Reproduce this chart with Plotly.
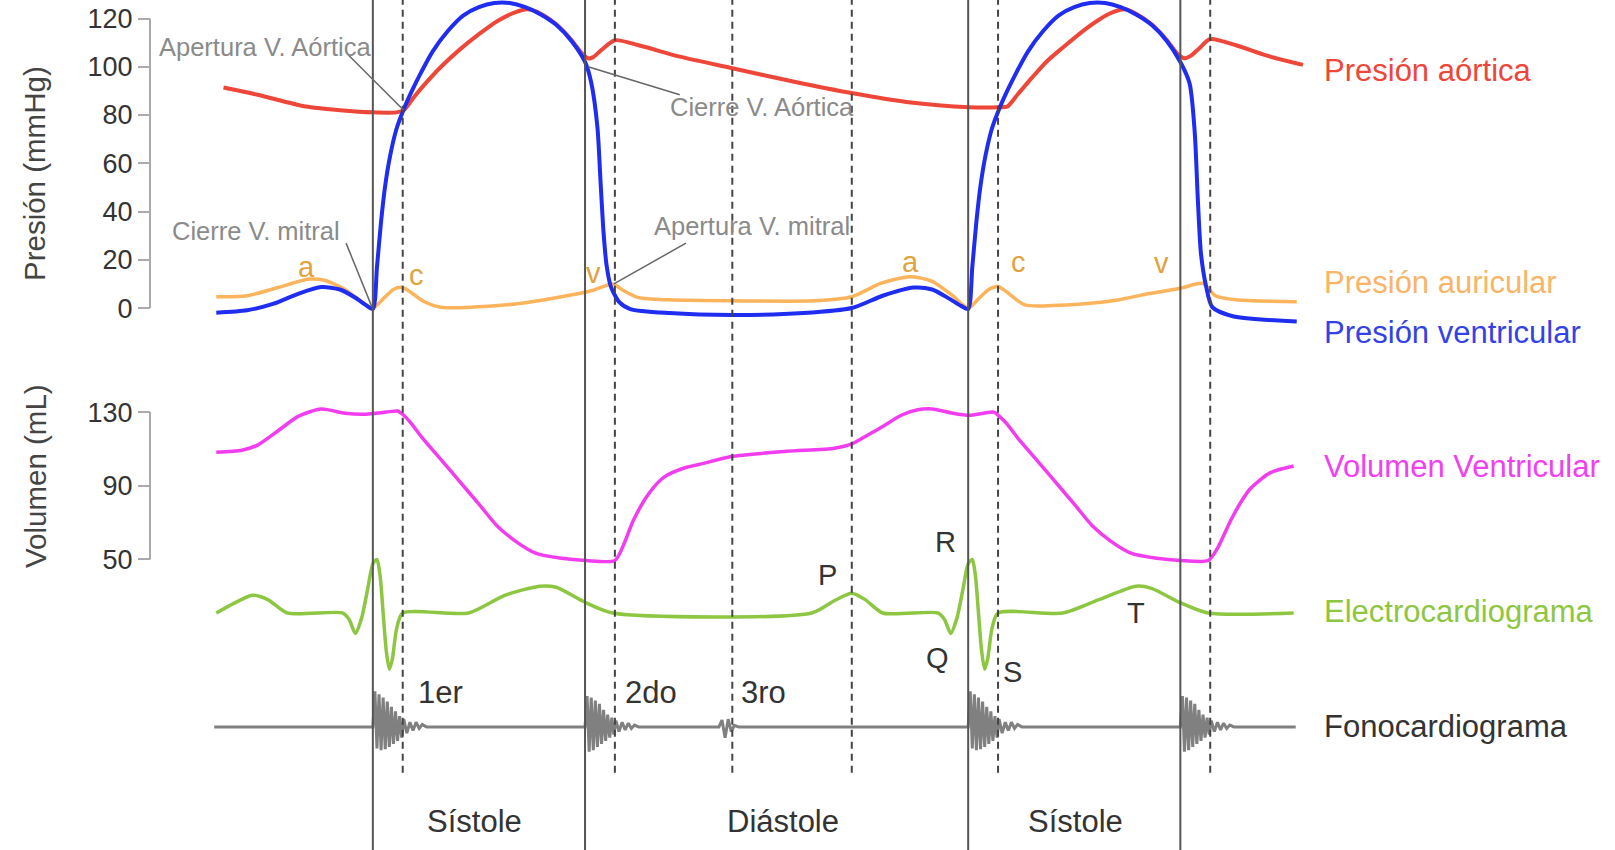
import plotly.graph_objects as go

FONT = "Liberation Sans, Arial, Helvetica, sans-serif"

# ---------------- data (time in ms from the first mitral-valve closure) ----------------
# Aortic pressure (mmHg)
t_aortica = [-145, -112, -65, -32, 0, 23, 30, 40, 52, 65, 84, 103, 121, 138, 150, 163, 178, 193, 203, 209, 214, 222,
             235, 258, 298, 349, 408, 466, 518, 579, 608, 616, 626, 640, 655, 670, 690, 705, 718, 730, 741, 756, 771,
             781, 788, 794, 802, 813, 838, 868, 903]
p_aortica = [91.4, 88.4, 83.5, 82.0, 81.1, 81.1, 82.0, 87.5, 93.5, 99.5, 107.0, 113.5, 119.0, 122.5, 123.8, 122.0,
             117.6, 111.0, 105.5, 103.5, 104.0, 107.0, 111.0, 108.9, 104.2, 99.4, 93.9, 89.0, 85.4, 83.2, 83.2, 83.5,
             88.5, 95.5, 102.5, 108.0, 115.0, 119.5, 122.5, 123.8, 122.0, 117.6, 111.0, 105.5, 103.5, 104.5, 107.5,
             111.5, 108.9, 104.6, 100.8]

# Atrial pressure (mmHg)
t_auricular = [-152, -122, -92, -62, -47, -27, -12, 0, 10, 20, 28, 36, 50, 66, 98, 138, 178, 213, 233, 243, 258, 288,
               349, 428, 465, 493, 521, 543, 563, 578, 588, 598, 607, 615, 633, 673, 718, 754, 783, 806, 818, 838, 897]
p_auricular = [4.7, 5.1, 8.5, 12.0, 11.5, 7.7, 3.0, 0.0, 3.8, 7.7, 8.6, 6.8, 2.6, 0.3, 0.4, 1.7, 4.3, 7.3, 10.0, 7.3,
               4.3, 3.4, 3.0, 3.0, 4.7, 10.2, 13.0, 11.1, 5.1, 0.0, 3.8, 7.7, 8.9, 6.8, 1.3, 1.3, 3.0, 6.0, 8.1, 10.2,
               5.1, 3.4, 2.6]

# Ventricular pressure (mmHg)
t_ventricular = [-152, -122, -97, -72, -50, -32, -17, -7, 0, 4, 8, 12, 17, 23, 30, 38, 47, 58, 73, 88, 103, 118, 133,
                 148, 163, 178, 193, 206, 212, 218, 221, 224, 227, 231, 239, 250, 288, 349, 418, 465, 495, 525, 543,
                 560, 571, 578, 582, 586, 590, 595, 601, 608, 616, 625, 636, 651, 666, 681, 696, 711, 726, 741, 756,
                 771, 784, 793, 798, 801, 804, 809, 815, 835, 897]
p_ventricular = [-1.9, -0.9, 1.7, 6.0, 8.7, 7.7, 4.3, 1.3, -0.4, 17.0, 35.9, 50.8, 63.6, 74.3, 82.4, 90.1, 97.8,
                 106.3, 114.9, 121.3, 124.7, 126.4, 126.4, 124.7, 121.7, 117.4, 110.6, 102.0, 93.5, 75.1, 52.9, 31.2,
                 17.5, 9.0, 2.6, -0.4, -2.1, -2.9, -2.1, 0.0, 5.1, 8.5, 7.7, 3.8, 0.9, -0.4, 17.0, 35.9, 50.8, 63.6,
                 74.3, 82.4, 90.1, 97.8, 106.3, 114.9, 121.3, 124.7, 126.4, 126.4, 124.7, 121.7, 117.4, 110.6, 102.0,
                 93.1, 72.6, 44.8, 22.6, 9.0, 0.4, -3.4, -5.6]

# Ventricular volume (mL)
t_volumen = [-152, -127, -112, -92, -72, -50, -27, -7, 13, 24, 30, 37, 48, 68, 84, 103, 121, 138, 158, 183, 207, 235,
             243, 253, 268, 283, 303, 320, 348, 402, 448, 465, 481, 495, 513, 528, 543, 563, 579, 593, 603, 608, 615,
             626, 646, 662, 681, 699, 716, 736, 761, 784, 811, 820, 833, 843, 852, 871, 894]
v_volumen = [108.2, 109.3, 112.1, 119.9, 127.8, 131.7, 129.4, 128.9, 130.0, 130.6, 128.3, 124.0, 116.0, 103.0, 92.5,
             80.0, 68.0, 60.1, 53.4, 50.6, 49.4, 49.4, 57.3, 71.3, 85.8, 94.8, 99.8, 102.0, 105.9, 108.7, 110.4,
             112.7, 117.7, 122.2, 128.3, 131.1, 131.7, 129.4, 128.3, 129.4, 130.0, 127.8, 124.0, 116.0, 103.0, 92.5,
             80.0, 68.0, 60.1, 53.4, 50.6, 49.4, 49.4, 56.0, 71.3, 81.3, 88.5, 97.0, 100.7]

# Electrocardiogram (mV)
t_ecg = [-152, -135, -117, -102, -83, -29, -23, -17, -11, -5, 0, 4, 7, 10, 13, 16, 19, 23, 29, 93, 128, 162, 178, 205,
         233, 426, 448, 465, 478, 495, 549, 555, 561, 567, 573, 578, 582, 585, 588, 591, 594, 597, 601, 607, 670, 705,
         741, 756, 782, 811, 894]
v_ecg = [0.0, 0.18, 0.33, 0.25, 0.0, 0.0, -0.12, -0.38, -0.1, 0.45, 0.92, 1.0, 0.7, 0.0, -0.7, -1.05, -0.85, -0.3, 0.0,
         0.0, 0.33, 0.5, 0.48, 0.21, 0.0, 0.0, 0.23, 0.37, 0.25, 0.0, 0.0, -0.12, -0.38, -0.1, 0.45, 0.92, 1.0, 0.7,
         0.0, -0.7, -1.05, -0.85, -0.3, 0.0, 0.0, 0.25, 0.5, 0.46, 0.21, 0.0, 0.0]

# Phonocardiogram: heart-sound waveforms (ms after onset, relative amplitude) and onsets
s1_dt = [0, 2, 4, 6, 8, 10, 12, 14, 16, 18, 20, 22, 24, 26, 28, 30, 33, 36, 39, 42, 45, 48, 52, 56]
s1_amp = [0, 1.15, -0.7, 1.05, -0.75, 0.95, -0.72, 0.82, -0.65, 0.65, -0.55, 0.5, -0.45, 0.35, -0.35, 0.25, -0.2,
          0.15, -0.12, 0.15, -0.05, 0.08, 0, 0]
s2_dt = [0, 2, 4, 6, 8, 10, 12, 14, 16, 18, 20, 22, 24, 26, 28, 30, 33, 36, 39, 42, 45, 48, 52, 56]
s2_amp = [0, 1.0, -0.8, 0.95, -0.75, 0.85, -0.65, 0.75, -0.55, 0.55, -0.45, 0.4, -0.35, 0.3, -0.25, 0.2, -0.15, 0.15,
          -0.1, 0.12, -0.05, 0.06, 0, 0]
s3_dt = [0, 3, 6, 9, 12, 15, 19]
s3_amp = [0, 0.22, -0.35, 0.25, -0.15, 0.05, 0]
sound_onsets = [("s1", 0), ("s2", 206), ("s3", 336), ("s1", 578), ("s2", 784)]
phono_start, phono_end = -154, 896

# Event lines (ms)
solid_events = [0, 206, 578, 784]
dashed_events = [29, 235, 349, 465, 607, 813]

# Axis ticks
p_ticks = [0, 20, 40, 60, 80, 100, 120]
v_ticks = [50, 90, 130]

# ---------------- build phonocardiogram series ----------------
templates = {"s1": (s1_dt, s1_amp), "s2": (s2_dt, s2_amp), "s3": (s3_dt, s3_amp)}
t_fono, v_fono = [phono_start], [0]
for name, onset in sound_onsets:
    dts, amps = templates[name]
    t_fono += [onset + d for d in dts]
    v_fono += amps
t_fono.append(phono_end)
v_fono.append(0)

# ---------------- figure ----------------
RED, ORANGE, BLUE, MAGENTA, GREEN, GRAY = "#EE4638", "#FBB35C", "#1F2DF0", "#F23CF0", "#8DC641", "#808080"

fig = go.Figure()


def add(t, v, yaxis, color, width, shape="spline"):
    fig.add_trace(go.Scatter(x=t, y=v, yaxis=yaxis, mode="lines",
                             line=dict(color=color, width=width, shape=shape, smoothing=0.7),
                             hoverinfo="skip", showlegend=False))


add(t_aortica, p_aortica, "y", RED, 4)
add(t_auricular, p_auricular, "y", ORANGE, 3.5)
add(t_ventricular, p_ventricular, "y", BLUE, 4)
add(t_volumen, v_volumen, "y2", MAGENTA, 3.5)
add(t_ecg, v_ecg, "y3", GREEN, 3.5)
add(t_fono, v_fono, "y4", GRAY, 3, shape="linear")

AX_X = 150 / 1615
shapes = []
for t in solid_events:
    shapes.append(dict(type="line", xref="x", yref="paper", x0=t, x1=t, y0=0, y1=1,
                       line=dict(color="#555555", width=2)))
for t in dashed_events:
    shapes.append(dict(type="line", xref="x", yref="paper", x0=t, x1=t, y0=0.091, y1=1,
                       line=dict(color="#444444", width=2, dash="7px,5px")))
# bracket-style axis spines
shapes.append(dict(type="line", xref="paper", yref="y", x0=AX_X, x1=AX_X, y0=p_ticks[0], y1=p_ticks[-1],
                   line=dict(color="#AAAAAA", width=2)))
shapes.append(dict(type="line", xref="paper", yref="y2", x0=AX_X, x1=AX_X, y0=v_ticks[0], y1=v_ticks[-1],
                   line=dict(color="#AAAAAA", width=2)))
# valve-event leader lines (time, pressure)
leaders = [((-24, 105), (30, 82)), ((209, 100), (298, 88.4)), ((-26, 26.9), (-1, 0.6)), ((304, 26.9), (234, 10.0))]
for (xa, ya), (xb, yb) in leaders:
    shapes.append(dict(type="line", xref="x", yref="y", x0=xa, y0=ya, x1=xb, y1=yb,
                       line=dict(color="#666666", width=1.5)))

annotations = []


def label(text, x, y, yref, color, size, xanchor="center", xref="x", angle=0):
    annotations.append(dict(text=text, x=x, y=y, xref=xref, yref=yref, showarrow=False, xanchor=xanchor,
                            yanchor="middle", textangle=angle, font=dict(family=FONT, size=size, color=color)))


# right-hand series labels
LX = 922
label("Presión aórtica", LX, 98.6, "y", RED, 31, "left")
label("Presión auricular", LX, 10.4, "y", "#F9B466", 31, "left")
label("Presión ventricular", LX, -10.2, "y", "#3342E8", 31, "left")
label("Volumen Ventricular", LX, 100.3, "y2", "#F040F0", 31, "left")
label("Electrocardiograma", LX, 0.02, "y3", GREEN, 31, "left")
label("Fonocardiograma", LX, 0, "y4", "#333333", 31, "left")

# valve events
GTXT = "#8A8A8A"
label("Apertura V. Aórtica", -104, 108, "y", GTXT, 25.5)
label("Cierre V. Aórtica", 378, 83.3, "y", GTXT, 25.5)
label("Cierre V. mitral", -113, 32, "y", GTXT, 25.5)
label("Apertura V. mitral", 368, 34.2, "y", GTXT, 25.5)

# atrial waves
ACOL = "#E2A23E"
for txt, x, y in [("a", -64, 17.1), ("c", 42, 13.7), ("v", 214, 14.5), ("a", 522, 19.2), ("c", 627, 19.2),
                  ("v", 766, 18.8)]:
    label(txt, x, y, "y", ACOL, 29)

# ECG waves
for txt, x, y in [("P", 441, 0.71), ("R", 556, 1.33), ("Q", 548, -0.83), ("S", 621, -1.10), ("T", 741, 0.0)]:
    label(txt, x, y, "y3", "#333333", 29)

# heart sounds and phases
for txt, x, y in [("1er", 66, 1.12), ("2do", 270, 1.12), ("3ro", 379, 1.12), ("Sístole", 99, -3.05),
                  ("Diástole", 398, -3.05), ("Sístole", 682, -3.05)]:
    label(txt, x, y, "y4", "#333333", 31)

# axis titles
label("Presión (mmHg)", 34 / 1615, 1 - 174 / 850, "paper", "#444444", 29.5, xref="paper", angle=-90)
label("Volumen (mL)", 35 / 1615, 1 - 476 / 850, "paper", "#444444", 29.5, xref="paper", angle=-90)

ytick_style = dict(ticks="outside", ticklen=12, tickwidth=2, tickcolor="#AAAAAA", showgrid=False, zeroline=False,
                   showline=False, anchor="free", position=AX_X,
                   tickfont=dict(family=FONT, size=27, color="#333333"))

fig.update_layout(
    width=1615, height=850, margin=dict(l=0, r=0, t=0, b=0),
    paper_bgcolor="white", plot_bgcolor="white", showlegend=False,
    xaxis=dict(range=[-362, 1206], visible=False, domain=[0, 1]),
    yaxis=dict(range=[-224.6, 127.67], domain=[0, 1], tickvals=p_ticks, **ytick_style),
    yaxis2=dict(range=[-107.8, 353.8], domain=[0, 1], overlaying="y", tickvals=v_ticks, **ytick_style),
    yaxis3=dict(range=[-4.423, 11.442], overlaying="y", visible=False),
    yaxis4=dict(range=[-3.983, 23.517], overlaying="y", visible=False),
    shapes=shapes, annotations=annotations,
)

fig.write_html("out.html", config={"displayModeBar": False},
               post_script="document.body.style.margin='0px';document.body.style.overflow='hidden';")
